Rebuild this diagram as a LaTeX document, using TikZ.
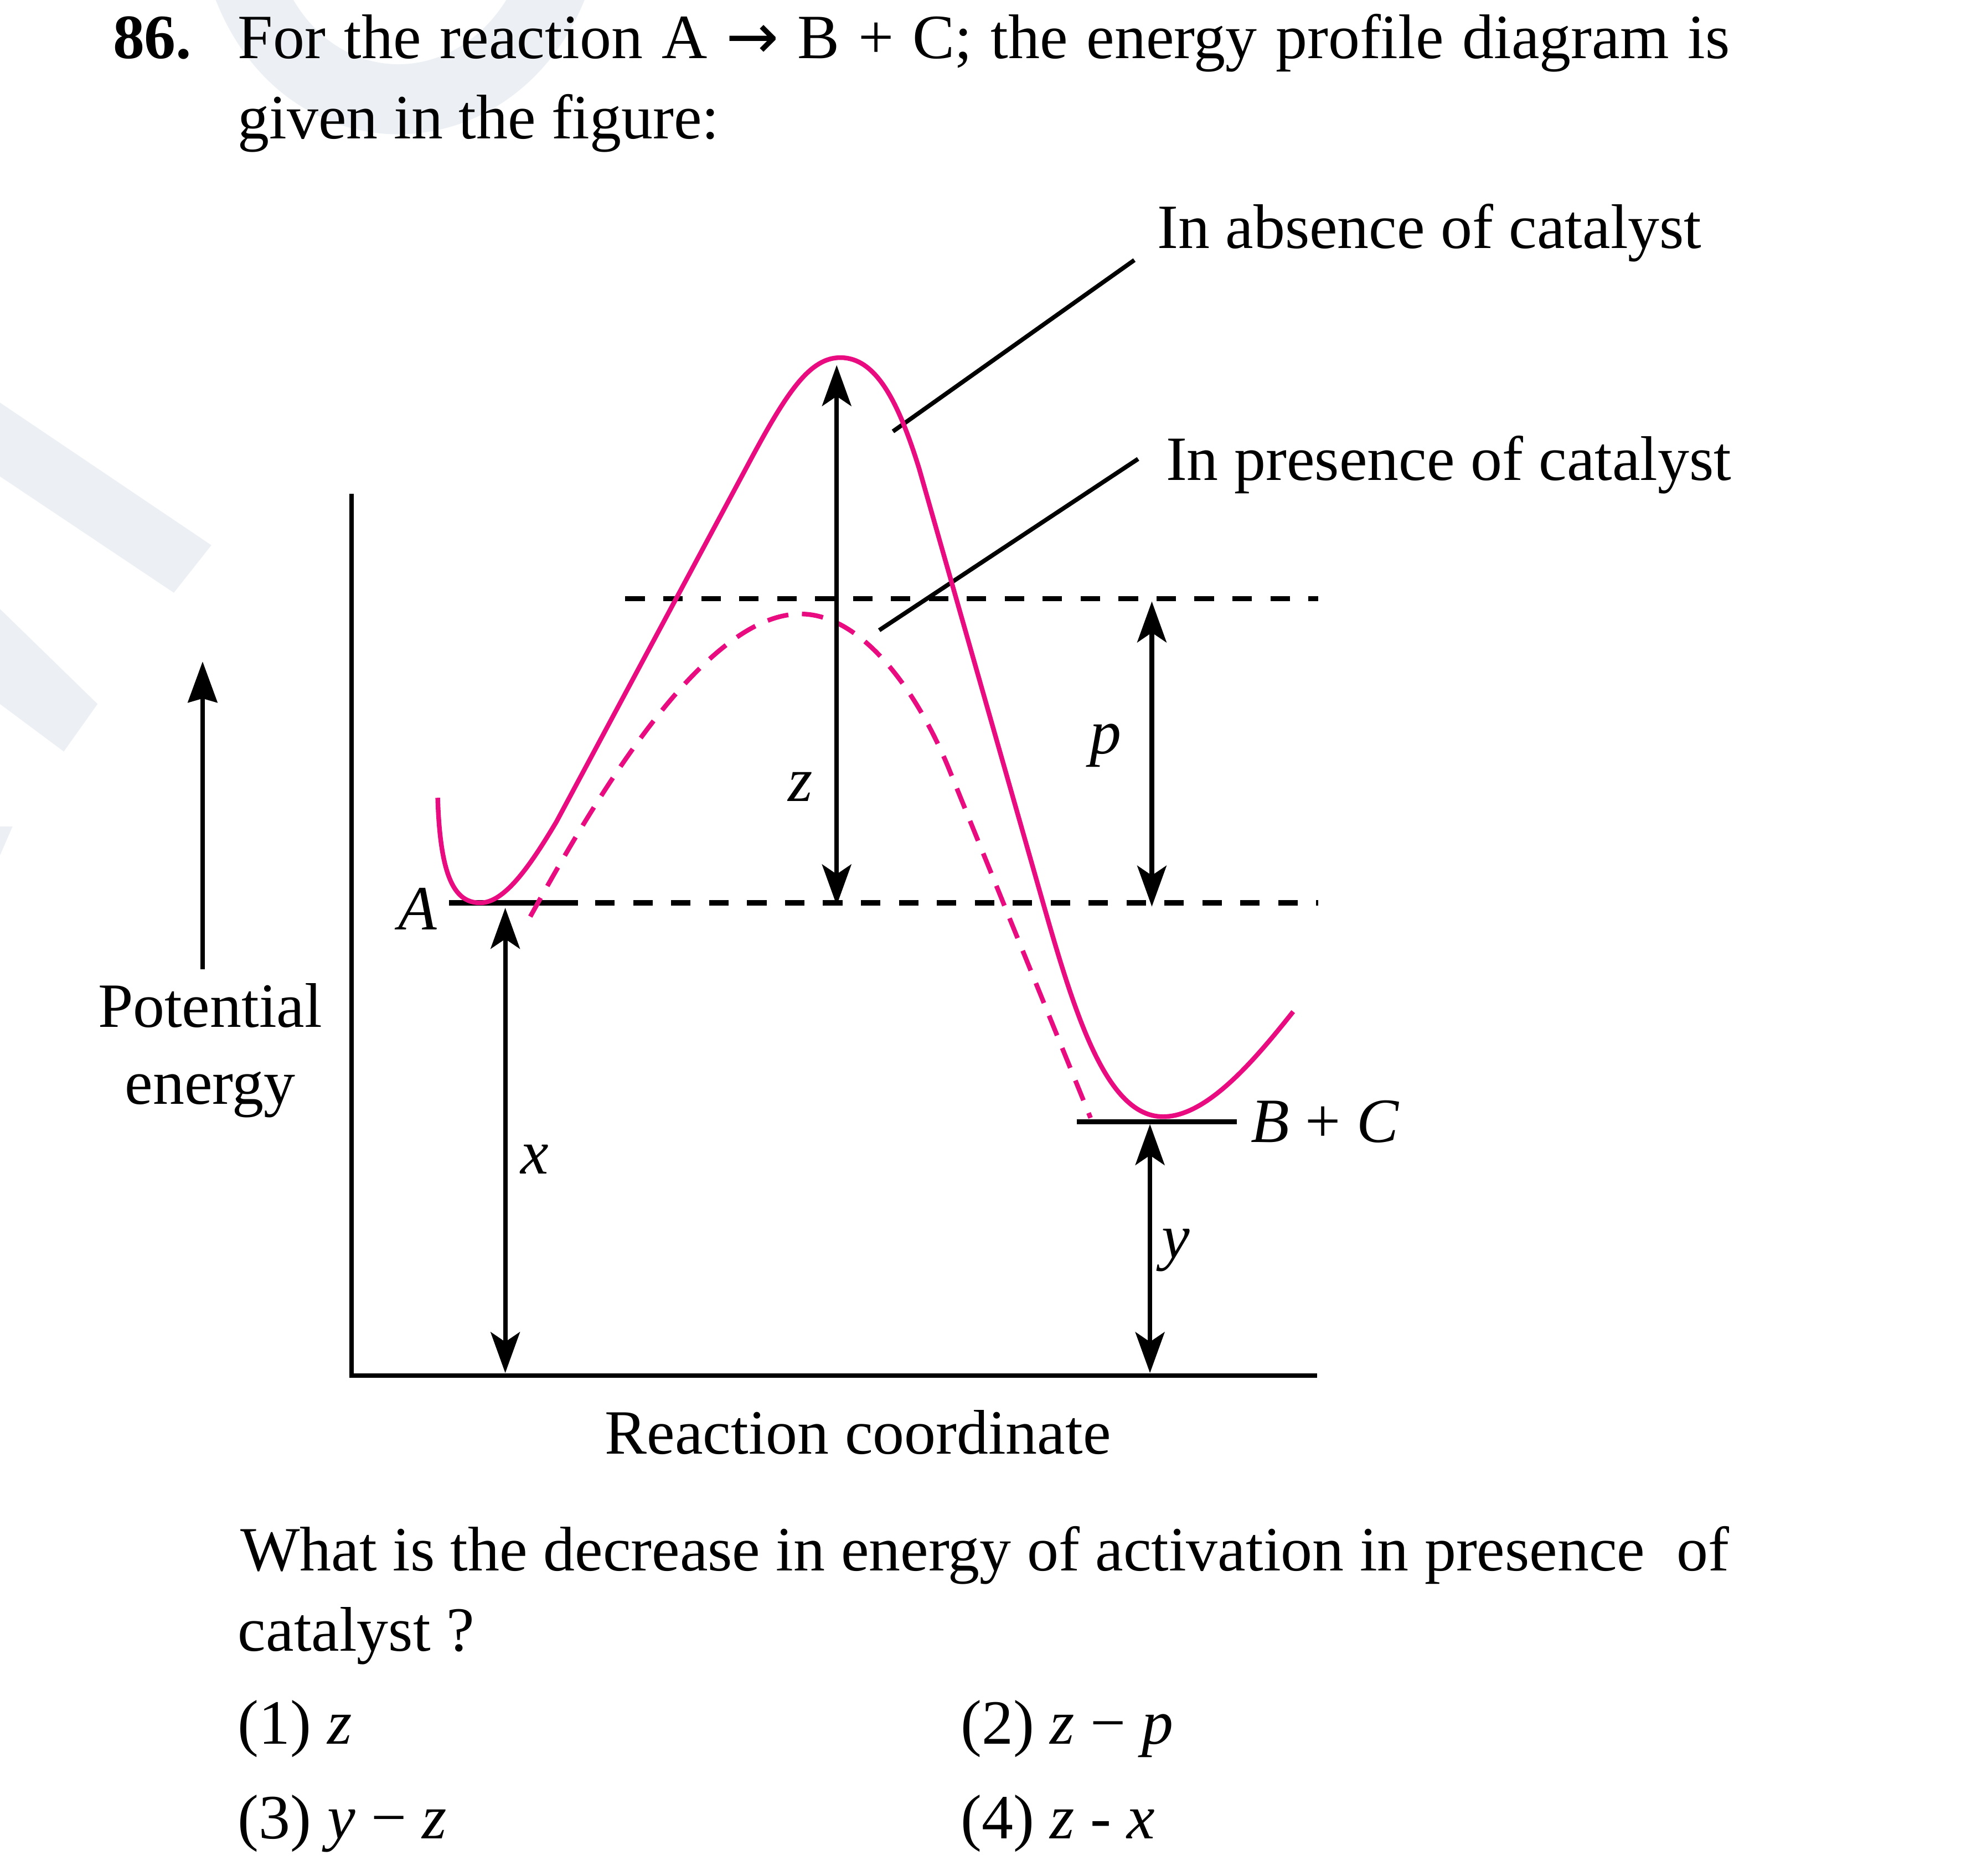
\documentclass[tikz,border=0pt]{standalone}
\usepackage{fontspec}
\setmainfont{Liberation Serif}
\newfontfamily\arrowfont{DejaVu Sans}
\usetikzlibrary{arrows.meta,positioning}
\definecolor{curvepink}{RGB}{232,12,128}
\definecolor{wmgrey}{RGB}{236,240,244}
\newcommand{\qsize}{\fontsize{32.4}{38}\selectfont}

\begin{document}
\begin{tikzpicture}[x=0.2259mm, y=-0.2259mm,
  every node/.style={font=\qsize, inner sep=0pt},
  dimarrow/.style={line width=2.3pt, {Stealth[length=21pt,width=15pt,inset=5pt]}-{Stealth[length=21pt,width=15pt,inset=5pt]}},
  guide/.style={line width=2.6pt, dash pattern=on 10pt off 9.5pt},
  lead/.style={line width=2.2pt},
  profile/.style={curvepink, line width=2.4pt}]
  \useasboundingbox (0,0) rectangle (1568,1500);
  \clip (0,0) rectangle (1568,1500);
  \fill[white] (0,0) rectangle (1568,1500);

  \fill[wmgrey] (0,322) -- (169,436) -- (139,474) -- (0,381) -- cycle;
  \fill[wmgrey] (0,487) -- (78,563) -- (51,601) -- (0,563) -- cycle;
  \fill[wmgrey] (0,661) -- (10,661) -- (0,684) -- cycle;
  \draw[wmgrey, line width=36pt] (195,-20) .. controls (240,115) and (400,110) .. (445,-20);

  \node[anchor=base west, font=\qsize\bfseries] (qnum) at (90,46.6) {86.};
  \node[anchor=base west] (stem1) at (190,46.6) {\makebox[766.7pt][s]{For the reaction A {\arrowfont →} B + C; the energy profile diagram is}};
  \node[anchor=base west] (stem2) at (190,111) {given in the figure:};

  \node[anchor=base west] (absence) at (925,198.6) {In absence of catalyst};
  \node[anchor=base west] (presence) at (932,384) {In presence of catalyst};
  \coordinate (absFoot) at (907,208);
  \coordinate (absEnd) at (714,345);
  \coordinate (preFoot) at (910,367);
  \coordinate (preEnd) at (703,504);
  \draw[lead] (absFoot) -- (absEnd);
  \draw[lead] (preFoot) -- (preEnd);

  \coordinate (origin) at (281,1100);
  \coordinate (yTop) at (281,395);
  \coordinate (xEnd) at (1053,1100);
  \draw[line width=2.4pt] (yTop) -- (origin) -- (xEnd);

  \coordinate (peBot) at (162,775);
  \coordinate (peTop) at (162,529);
  \draw[line width=2.4pt, -{Stealth[length=21pt,width=15pt,inset=2pt]}] (peBot) -- (peTop);
  \node[anchor=base] (pot) at (168,821.6) {Potential};
  \node[anchor=base] (energy) at (168,883) {energy};
  \node[anchor=base] (rc) at (686,1162.5) {Reaction coordinate};

  \draw[line width=2.6pt] (359,722) -- (462,722);
  \draw[guide] (476,722) -- (1054,722);
  \draw[guide] (500,478.6) -- (1054,478.6);
  \draw[line width=2.6pt] (861,897) -- (989,897);
  \node[anchor=base east] (lblA) at (350,743.7) {\textit{A}};
  \node[anchor=base west] (lblBC) at (1000,913.4) {\textit{B} + \textit{C}};

  \draw[profile] (350,638) .. controls (352,705) and (365,722) .. (384,722)
    .. controls (403,722) and (423,694) .. (445,657)
    -- (600,368)
    .. controls (630,312) and (648,286) .. (672,286)
    .. controls (700,286) and (718,320) .. (735,375)
    -- (834,722)
    .. controls (860,813) and (885,893) .. (930,893)
    .. controls (965,893) and (1003,848) .. (1034,809);
  \draw[profile, dash pattern=on 11pt off 7pt] (424,733)
    .. controls (470,650) and (560,491) .. (640,491)
    .. controls (690,491) and (735,555) .. (760,618) -- (872,894);

  \coordinate (zTop) at (669,292);
  \coordinate (zBot) at (669,724);
  \coordinate (pTop) at (921,481);
  \coordinate (pBot) at (921,725);
  \coordinate (xTop) at (404,726);
  \coordinate (xBot) at (404,1098);
  \coordinate (yyTop) at (919.5,899);
  \coordinate (yyBot) at (919.5,1098);
  \draw[dimarrow] (zBot) -- (zTop);
  \draw[dimarrow] (pBot) -- (pTop);
  \draw[dimarrow] (xBot) -- (xTop);
  \draw[dimarrow] (yyBot) -- (yyTop);
  \node (lblz) at (640,629) {\textit{z}};
  \node (lblp) at (884,596) {\textit{p}};
  \node (lblx) at (427.6,927) {\textit{x}};
  \node (lbly) at (940,1000) {\textit{y}};

  \node[anchor=base west] (ask1) at (192,1256) {What is the decrease in energy of activation in presence\ \ of};
  \node[anchor=base west] (ask2) at (190,1320.5) {catalyst ?};
  \node[anchor=base west] (opt1) at (190,1394.5) {(1) \textit{z}};
  \node[anchor=base west] (opt2) at (768,1394.5) {(2) \textit{z} − \textit{p}};
  \node[anchor=base west] (opt3) at (190,1470.4) {(3) \textit{y} − \textit{z}};
  \node[anchor=base west] (opt4) at (768,1470.4) {(4) \textit{z} - \textit{x}};
\end{tikzpicture}
\end{document}
